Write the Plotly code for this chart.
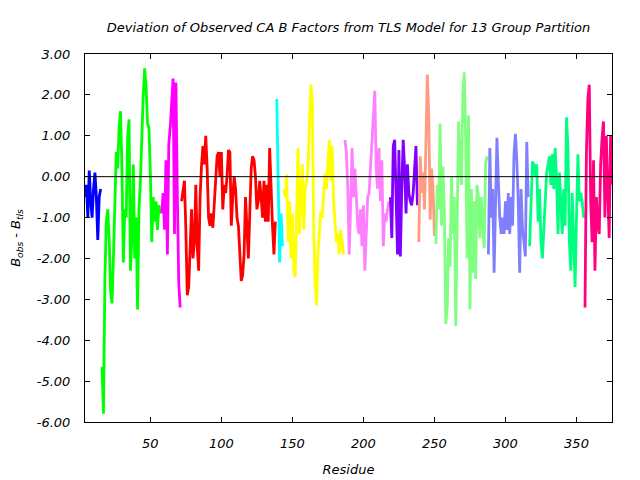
import plotly.graph_objects as go

# residue values per TLS group (B_obs - B_tls)
blue_start = 4
blue_vals = [-0.5, -0.2, -1.0, 0.15, -0.6, -1.0, -0.3, 0.1, -0.5, -1.55, -0.5, -0.3]

green_start = 16
green_vals = [-4.65, -5.8, -2.5, -1.1, -0.8, -1.5, -2.8, -3.1, -2.0, -0.5,
              0.6, 0.2, 1.2, 1.6, 0.2, -2.1, -0.8, -1.0, 0.95, 1.4,
              -2.3, -1.5, 0.3, -2.0, -1.0, -3.25, -0.8, -0.1, 1.1, 2.0,
              2.65, 2.2, 1.3, 1.2, 0.1, -1.6, -0.5, -1.1, -0.6, -1.3,
              -0.7, -0.9]

magenta_start = 58
magenta_vals = [-0.9, -0.4, -1.3, 0.4, -1.9, 0.8, 1.2, 2.0, 2.4, -1.4,
                2.3, -0.4, -2.6, -3.2]

red_start = 72
red_vals = [-0.6, -0.3, -0.1, -1.3, -2.9, -2.7, -1.5, -0.8, -2.0, -1.6,
            -0.2, -1.7, -2.3, -0.5, 0.25, 0.75, 0.3, 1.0, 0.2, -1.0,
            -1.2, -0.9, -1.25, -0.7, -0.2, 0.5, 0.6, 0.0, 0.6, -0.8,
            -0.2, -0.4, 0.0, 0.65, 0.6, -1.2, -0.5, 0.0, -0.3, -1.0,
            -1.2, -2.0, -2.55, -2.4, -1.9, -0.5, -1.5, -2.0, -0.9, 0.2,
            0.5, 0.4, 0.0, -0.8, -0.6, -0.1, -0.5, -1.0, -0.1, -1.1,
            -0.2, -1.1, 0.7, -0.4, -1.2, -1.9, -1.1]

cyan_start = 139
cyan_vals = [1.9, -0.2, -2.1, -0.9, -1.7]

yellow_start = 144
yellow_vals = [-0.3, -0.5, 0.05, -1.6, -0.6, -2.0, -0.9, -2.3, -2.45, -0.5,
               0.7, -1.4, -0.6, 0.3, -1.3, -0.3, -0.1, 0.2, 1.25, 2.25,
               1.9, -1.3, -2.6, -3.15, -1.9, -1.4, -0.85, -1.0, -0.4, 0.08,
               -0.3, 0.3, 0.9, -0.1, 0.75, -0.6, -1.1, -1.6, -1.4, -1.9,
               -1.3, -1.6, -1.9]

pink_start = 187
pink_vals = [0.9, 0.6, -0.3, -1.9, -0.7, 0.7, -0.5, 0.2, -0.5, -1.2,
             -1.4, -0.8, -1.7, -0.7, -2.3, -1.3, -0.5, -0.4, 0.2, 0.7,
             1.55, 2.1, 0.2, -0.3, 0.7, -0.6, 0.4, -1.7, -0.9, -1.1,
             -0.8, -0.6]

purple_start = 219
purple_vals = [-0.5, -1.5, 0.75, 0.9, -0.5, -1.9, 0.65, -1.95, -0.3, 0.9,
               0.2, -0.9, 0.3, -0.4, -0.6, -0.7, -0.4, 0.35, 0.75, -0.7]

salmon_start = 239
salmon_vals = [-1.6, 0.5, -0.4, 0.1, -0.8, 1.3, 2.5, 1.5, -1.05, 0.2,
               -0.3, -1.45]

lightgreen_start = 251
lightgreen_vals = [-1.65, -0.2, -0.8, 1.3, -1.2, 0.25, -0.9, -3.6, -3.2, -1.5,
                   -2.2, 0.0, -1.4, -0.5, -3.65, -1.3, 1.35, 0.3, -0.2, 2.0,
                   2.55, 0.8, -2.0, 1.5, -3.25, -0.3, -2.35, -0.6, -2.5, -0.2,
                   -0.5, -1.5, -0.5, -1.2, -1.75, 0.3, 0.5]

slate_start = 288
slate_vals = [-1.9, 0.7, -1.0, -0.3, -2.35, -0.5, 0.95, -0.1, -1.0, -1.4,
              -1.0, -1.4, -0.6, -1.3, -0.4, -1.4, -0.5, -1.2, 0.55, 1.05,
              0.4, -0.6, -2.35, -0.3, -1.3, -1.6, -1.95, 0.85, -0.5]

spring_start = 317
spring_vals = [-1.7, -0.6, 0.37, 0.3, 0.0, 0.3, -1.1, -0.3, -1.6, -2.0,
               -1.2, -0.8, 0.1, 0.3, 0.5, -0.2, 0.55, -0.3, 0.7, -0.1,
               -1.4, 0.1, -0.8, -1.4, -0.3, -1.2, 1.45, 0.7, -1.6, -2.3,
               -0.4, -1.6, -2.7, -1.0, 0.55, -0.6, -0.4, -0.6, -1.0]

deeppink_start = 356
deeppink_vals = [-3.2, 0.6, 1.9, 2.25, -0.6, -1.6, 0.4, -2.3, -0.5, -1.2,
                 -1.4, 0.3, 0.95, 1.35, -1.0, 1.0, -0.3, -1.5, 1.0, -0.2]

group_starts = [blue_start, green_start, magenta_start, red_start, cyan_start,
                yellow_start, pink_start, purple_start, salmon_start,
                lightgreen_start, slate_start, spring_start, deeppink_start]
group_values = [blue_vals, green_vals, magenta_vals, red_vals, cyan_vals,
                yellow_vals, pink_vals, purple_vals, salmon_vals,
                lightgreen_vals, slate_vals, spring_vals, deeppink_vals]
group_colors = ["#0000ff", "#00ff00", "#ff00ff", "#ff0000", "#00ffff",
                "#ffff00", "#ff80ff", "#8000ff", "#ff9c80",
                "#80ff80", "#8080ff", "#00ff80", "#ff0080"]

y_ticks = [3, 2, 1, 0, -1, -2, -3, -4, -5, -6]
y_tick_labels = ["3.00", "2.00", "1.00", "0.00", "-1.00", "-2.00",
                 "-3.00", "-4.00", "-5.00", "-6.00"]
x_ticks = [50, 100, 150, 200, 250, 300, 350]

FONT = "DejaVu Sans"
FS = 13

fig = go.Figure()
for start, vals, col in zip(group_starts, group_values, group_colors):
    xs = list(range(start, start + len(vals)))
    fig.add_trace(go.Scatter(x=xs, y=vals, mode="lines",
                             line=dict(color=col, width=2.8),
                             showlegend=False, hoverinfo="skip"))

fig.add_shape(type="line", xref="paper", yref="y", x0=0, x1=1, y0=0, y1=0,
              line=dict(color="black", width=1), layer="above")

# page body has an 8px margin, so the figure is placed at (8, 8)
fig.update_layout(
    width=640, height=480,
    margin=dict(l=77, r=36, t=46, b=66),
    paper_bgcolor="white", plot_bgcolor="white",
    font=dict(family=FONT, size=FS, color="black"),
    title=dict(text="<i>Deviation of Observed CA B Factors from TLS Model for 13 Group Partition</i>",
               x=0.5, xref="paper", xanchor="center",
               y=1 - 19 / 480, yref="container", yanchor="middle",
               font=dict(family=FONT, size=FS, color="black")),
)
fig.update_xaxes(range=[4, 375], tickvals=x_ticks,
                 ticktext=["<i>%d</i>" % v for v in x_ticks],
                 ticks="inside", ticklen=5, tickcolor="black",
                 showline=True, mirror="allticks", linecolor="black", linewidth=1,
                 showgrid=False, zeroline=False, ticklabelstandoff=9,
                 automargin=False,
                 title=dict(text="<i>Residue</i>", standoff=15,
                            font=dict(family=FONT, size=FS)))
fig.update_yaxes(range=[-6, 3], tickvals=y_ticks,
                 ticktext=["<i>%s</i>" % t for t in y_tick_labels],
                 ticks="inside", ticklen=5, tickcolor="black",
                 showline=True, mirror="allticks", linecolor="black", linewidth=1,
                 showgrid=False, zeroline=False, ticklabelstandoff=11,
                 automargin=False,
                 title=dict(text="<i>B<sub>obs</sub> - B<sub>tls</sub></i>", standoff=19,
                            font=dict(family=FONT, size=FS)))

fig.write_html("out.html")
